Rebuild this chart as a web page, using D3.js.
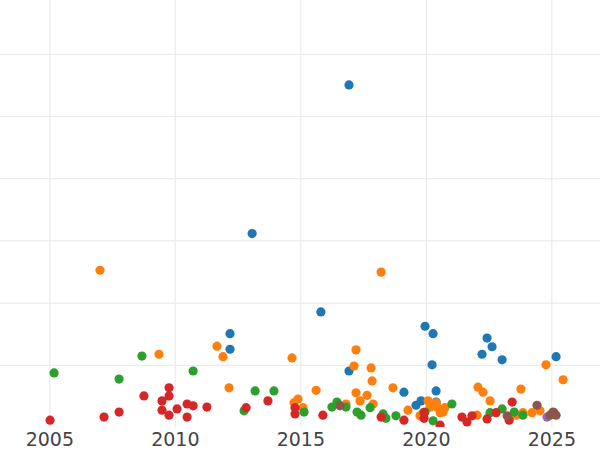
<!DOCTYPE html>
<html>
<head>
<meta charset="utf-8">
<script src="https://cdn.jsdelivr.net/npm/d3@7"></script>
<style>
  body { margin: 0; background: #fff; }
  svg { display: block; }
</style>
</head>
<body>
<div id="chart"></div>
<script>
// points as [year, value]
var blueSeries = [
  [2016.94, 5.50], [2013.08, 3.11], [2015.82, 1.85], [2012.20, 1.50], [2012.20, 1.25],
  [2019.97, 1.62], [2020.29, 1.50], [2020.25, 1.00], [2016.94, 0.90], [2019.13, 0.56],
  [2020.41, 0.58], [2020.41, 0.40], [2019.61, 0.35], [2019.81, 0.42], [2022.44, 1.43],
  [2022.64, 1.29], [2022.24, 1.17], [2023.04, 1.08], [2025.19, 1.13]
];
var orangeSeries = [
  [2007.02, 2.52], [2009.37, 1.17], [2011.68, 1.30], [2011.92, 1.13], [2012.16, 0.63],
  [2014.67, 1.11], [2014.75, 0.39], [2014.91, 0.45], [2015.11, 0.31], [2015.63, 0.59],
  [2018.22, 2.49], [2017.22, 1.24], [2017.14, 0.98], [2017.82, 0.95], [2017.86, 0.74],
  [2017.22, 0.55], [2017.38, 0.42], [2017.66, 0.51], [2017.90, 0.37], [2016.82, 0.37],
  [2018.69, 0.63], [2019.29, 0.27], [2019.77, 0.18], [2020.09, 0.42], [2019.89, 0.23],
  [2020.17, 0.32], [2020.45, 0.32], [2020.41, 0.39], [2020.69, 0.24], [2020.76, 0.31],
  [2020.57, 0.23], [2022.08, 0.64], [2022.28, 0.56], [2022.56, 0.42], [2022.04, 0.19],
  [2023.79, 0.61], [2024.79, 1.00], [2025.47, 0.76], [2024.55, 0.26], [2024.23, 0.23],
  [2023.87, 0.23], [2023.60, 0.19]
];
var greenSeries = [
  [2005.19, 0.87], [2007.78, 0.77], [2008.69, 1.14], [2010.73, 0.90], [2013.20, 0.58],
  [2013.95, 0.58], [2012.76, 0.26], [2015.15, 0.24], [2016.26, 0.32], [2016.46, 0.40],
  [2016.82, 0.32], [2017.26, 0.24], [2017.42, 0.19], [2017.78, 0.31], [2018.30, 0.21],
  [2018.41, 0.14], [2018.81, 0.18], [2019.97, 0.24], [2020.29, 0.10], [2021.04, 0.37],
  [2022.56, 0.23], [2023.04, 0.29], [2023.52, 0.24], [2023.87, 0.19], [2025.11, 0.23]
];
var redSeries = [
  [2005.03, 0.11], [2007.18, 0.16], [2007.78, 0.24], [2008.77, 0.50], [2009.77, 0.63],
  [2009.77, 0.50], [2009.49, 0.42], [2009.49, 0.27], [2009.77, 0.19], [2010.09, 0.29],
  [2010.49, 0.37], [2010.73, 0.34], [2010.49, 0.16], [2011.28, 0.32], [2012.84, 0.31],
  [2013.71, 0.42], [2014.79, 0.31], [2014.79, 0.21], [2015.90, 0.19], [2018.22, 0.16],
  [2019.13, 0.11], [2019.93, 0.14], [2019.93, 0.23], [2020.57, 0.03], [2021.44, 0.16],
  [2021.64, 0.08], [2021.84, 0.18], [2022.44, 0.13], [2022.80, 0.23], [2023.44, 0.40],
  [2023.32, 0.11]
];
var purpleSeries = [
  [2024.83, 0.16]
];
var brownSeries = [
  [2016.58, 0.34], [2023.24, 0.18], [2024.43, 0.35], [2025.07, 0.24], [2024.95, 0.19],
  [2025.19, 0.19]
];
var yearTicks = [2005, 2010, 2015, 2020, 2025];
var valueTicks = [1, 2, 3, 4, 5, 6];

var series = [
  {name: "blue", color: "#1f77b4", values: blueSeries},
  {name: "orange", color: "#ff7f0e", values: orangeSeries},
  {name: "green", color: "#2ca02c", values: greenSeries},
  {name: "red", color: "#d62728", values: redSeries},
  {name: "purple", color: "#9467bd", values: purpleSeries},
  {name: "brown", color: "#8c564b", values: brownSeries}
];

var width = 600,
    height = 450,
    plotBottom = 427;

var x = d3.scaleLinear().domain([2003.036, 2026.94]).range([0, width]);
var y = d3.scaleLinear().domain([0, 6.865]).range([plotBottom, 0]);

var svg = d3.select("#chart").append("svg")
  .attr("width", width)
  .attr("height", height);

svg.append("defs").append("clipPath").attr("id", "plotclip")
  .append("rect").attr("x", 0).attr("y", 0)
  .attr("width", width).attr("height", plotBottom);

// grid
svg.append("g").attr("class", "ygrid")
  .call(d3.axisLeft(y).tickValues(valueTicks).tickSize(-width).tickFormat(""))
  .call(function(g){ g.select(".domain").remove(); })
  .selectAll("line").attr("stroke", "#ebebeb").attr("stroke-width", 1.2);

svg.append("g").attr("class", "xgrid")
  .attr("transform", "translate(0," + plotBottom + ")")
  .call(d3.axisBottom(x).tickValues(yearTicks).tickSize(-plotBottom).tickFormat(""))
  .call(function(g){ g.select(".domain").remove(); })
  .selectAll("line").attr("stroke", "#ebebeb").attr("stroke-width", 1.2);

// x axis labels
var xAxis = svg.append("g")
  .attr("transform", "translate(0," + plotBottom + ")")
  .call(d3.axisBottom(x).tickValues(yearTicks).tickSize(0).tickPadding(6).tickFormat(d3.format("d")));
xAxis.select(".domain").remove();
xAxis.selectAll("text")
  .style("font-family", "DejaVu Sans, sans-serif")
  .style("font-size", "19px")
  .attr("fill", "#444");

// points
var dots = svg.append("g").attr("clip-path", "url(#plotclip)");
series.forEach(function(s){
  dots.selectAll("circle." + s.name)
    .data(s.values)
    .enter()
    .append("circle")
    .attr("class", s.name)
    .attr("cx", function(d){ return x(d[0]); })
    .attr("cy", function(d){ return y(d[1]); })
    .attr("r", 4.6)
    .style("fill", s.color);
});
</script>
</body>
</html>
